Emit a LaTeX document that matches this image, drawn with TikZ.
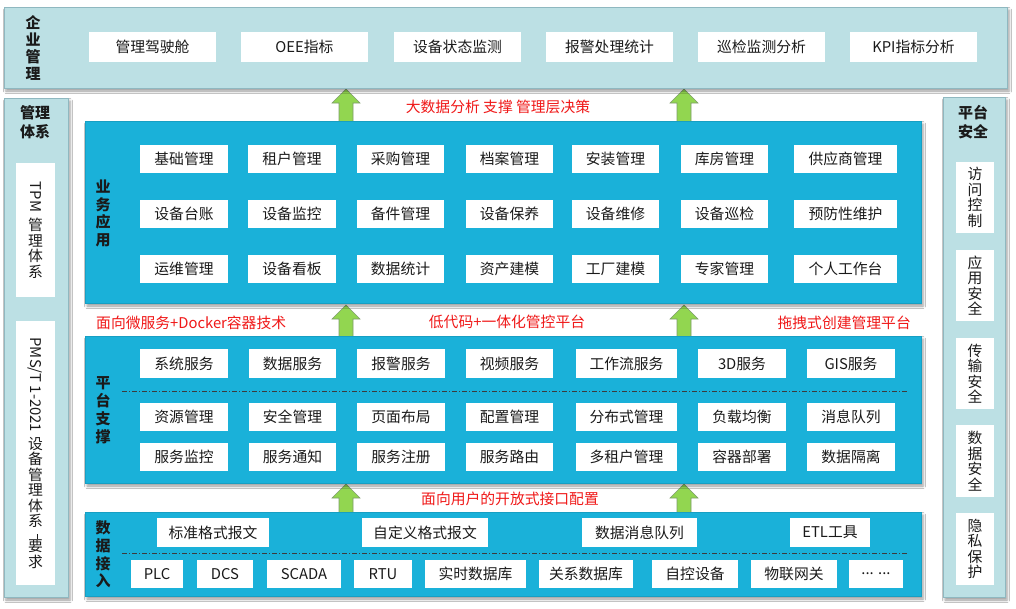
\documentclass[tikz,border=0pt]{standalone}
\usepackage{fontspec}
\setmainfont{Noto Sans CJK SC}
\usetikzlibrary{shadows.blur}
\definecolor{panelL}{HTML}{BCE0E4}
\definecolor{panelLB}{HTML}{8FB8C0}
\definecolor{panelB}{HTML}{1AB1D9}
\definecolor{arrG}{HTML}{92D650}
\definecolor{arrGB}{HTML}{7E9C6C}
\definecolor{txtR}{HTML}{F01818}
\definecolor{txtD}{HTML}{1A1A1A}
\newcommand\bfs{\fontsize{14.8}{15.5}\selectfont}
\tikzset{
  shd/.style={blur shadow={shadow xshift=2pt,shadow yshift=-3pt,shadow blur radius=2.5pt}},
  lpanel/.style={draw=panelLB, line width=1pt, fill=panelL, inner sep=0pt, shd},
  bpanel/.style={draw=panelB!90!black, line width=0.6pt, fill=panelB, inner sep=0pt, shd},
  wbox/.style={fill=white, draw=none, inner sep=0pt, font=\bfs, text=txtD, align=center},
  lbl/.style={text=txtD, align=center, inner sep=0pt},
  note/.style={font=\bfs, text=txtR, inner sep=0pt},
  uparrow/.style={fill=arrG, draw=arrGB, line width=0.6pt},
  sepline/.style={draw=txtD!85, line width=0.6pt, dash pattern=on 5pt off 2pt on 1pt off 2pt}
}
\newcommand\wb[6]{\node[wbox, minimum width={#4-#2}, minimum height={#5-#3}] (#1) at ({(#2+#4)/2},{(#3+#5)/2}) {#6};}
\newcommand\pnl[6]{\node[#1, minimum width={#5-#3}, minimum height={#6-#4}] (#2) at ({(#3+#5)/2},{(#4+#6)/2}) {};}
\newcommand\uparr[3]{\filldraw[uparrow] (#1-7,#2) -- (#1-7,#3+14) -- (#1-14,#3+14) -- (#1,#3) -- (#1+14,#3+14) -- (#1+7,#3+14) -- (#1+7,#2);}
\newcommand\rl[1]{\rotatebox[origin=c]{-90}{#1}}
\begin{document}
\begin{tikzpicture}[x=1pt,y=-1pt]
\useasboundingbox (0,0) rectangle (1016,608);
\fill[white] (0,0) rectangle (1016,608);

% arrows (under panels)
\uparr{346}{124}{89}
\uparr{684}{124}{89}
\uparr{346}{340}{305}
\uparr{684}{340}{305}
\uparr{346}{516}{484}
\uparr{684}{516}{484}

% panels
\pnl{lpanel}{top}{4}{7}{1007}{88}
\pnl{lpanel}{leftp}{4}{98}{68}{597}
\pnl{lpanel}{rightp}{943}{97}{1005}{597}
\pnl{bpanel}{biz}{85}{121}{921}{303}
\pnl{bpanel}{plat}{85}{336}{921}{483}
\pnl{bpanel}{data}{85}{512}{921}{596}

% panel labels
\node[lbl, font=\fontsize{15}{17}\selectfont\bfseries] (ltop) at (33,47.5) {企\\业\\管\\理};
\node[lbl, font=\fontsize{15}{19}\selectfont\bfseries] (lleft) at (35,122.5) {管理\\体系};
\node[lbl, font=\fontsize{15}{19}\selectfont\bfseries] (lright) at (973,122.5) {平台\\安全};
\node[lbl, font=\fontsize{15}{17.7}\selectfont\bfseries] (lbiz) at (103,213.5) {业\\务\\应\\用};
\node[lbl, font=\fontsize{15}{18}\selectfont\bfseries] (lplat) at (103,410) {平\\台\\支\\撑};
\node[lbl, font=\fontsize{15}{17.7}\selectfont\bfseries] (ldata) at (103,554.5) {数\\据\\接\\入};

% top boxes
\wb{t1}{89}{32}{216}{62}{管理驾驶舱}
\wb{t2}{241}{32}{368}{62}{OEE指标}
\wb{t3}{394}{32}{521}{62}{设备状态监测}
\wb{t4}{546}{32}{673}{62}{报警处理统计}
\wb{t5}{698}{32}{825}{62}{巡检监测分析}
\wb{t6}{850}{32}{977}{62}{KPI指标分析}

% left side boxes
\wb{tpm}{16}{163}{55}{297}{\rl{TPM}\\[5pt]管\\理\\体\\系}
\wb{pms}{16}{321}{55}{585}{\rl{PMS/T\ 1-2021}\\[4pt]设\\备\\管\\理\\体\\系\\[-3pt]\rl{\rule[0.3em]{0.32em}{0.07em}}\\[-3pt]要\\求}

% right side boxes
\wb{s1}{956}{162}{994}{233}{访\\问\\控\\制}
\wb{s2}{956}{250}{994}{321}{应\\用\\安\\全}
\wb{s3}{956}{338}{994}{409}{传\\输\\安\\全}
\wb{s4}{956}{425}{994}{497}{数\\据\\安\\全}
\wb{s5}{956}{513}{994}{585}{隐\\私\\保\\护}

% business boxes
\wb{b11}{140}{145}{228}{173}{基础管理}
\wb{b12}{248}{145}{336}{173}{租户管理}
\wb{b13}{357}{145}{444}{173}{采购管理}
\wb{b14}{466}{145}{553}{173}{档案管理}
\wb{b15}{572}{145}{659}{173}{安装管理}
\wb{b16}{681}{145}{768}{173}{库房管理}
\wb{b17}{794}{145}{897}{173}{供应商管理}
\wb{b21}{140}{200}{228}{228}{设备台账}
\wb{b22}{248}{200}{336}{228}{设备监控}
\wb{b23}{357}{200}{444}{228}{备件管理}
\wb{b24}{466}{200}{553}{228}{设备保养}
\wb{b25}{572}{200}{659}{228}{设备维修}
\wb{b26}{681}{200}{768}{228}{设备巡检}
\wb{b27}{794}{200}{897}{228}{预防性维护}
\wb{b31}{140}{255}{228}{283}{运维管理}
\wb{b32}{248}{255}{336}{283}{设备看板}
\wb{b33}{357}{255}{444}{283}{数据统计}
\wb{b34}{466}{255}{553}{283}{资产建模}
\wb{b35}{572}{255}{659}{283}{工厂建模}
\wb{b36}{681}{255}{768}{283}{专家管理}
\wb{b37}{794}{255}{897}{283}{个人工作台}

% platform boxes
\wb{p11}{140}{349}{228}{378}{系统服务}
\wb{p12}{249}{349}{336}{378}{数据服务}
\wb{p13}{357}{349}{445}{378}{报警服务}
\wb{p14}{466}{349}{553}{378}{视频服务}
\wb{p15}{576}{349}{677}{378}{工作流服务}
\wb{p16}{698}{349}{786}{378}{3D服务}
\wb{p17}{807}{349}{895}{378}{GIS服务}
\draw[sepline] (122,391) -- (907,391);
\wb{p21}{140}{403}{228}{431}{资源管理}
\wb{p22}{249}{403}{336}{431}{安全管理}
\wb{p23}{357}{403}{445}{431}{页面布局}
\wb{p24}{466}{403}{553}{431}{配置管理}
\wb{p25}{576}{403}{677}{431}{分布式管理}
\wb{p26}{698}{403}{786}{431}{负载均衡}
\wb{p27}{807}{403}{895}{431}{消息队列}
\wb{p31}{140}{443}{228}{471}{服务监控}
\wb{p32}{249}{443}{336}{471}{服务通知}
\wb{p33}{357}{443}{445}{471}{服务注册}
\wb{p34}{466}{443}{553}{471}{服务路由}
\wb{p35}{576}{443}{677}{471}{多租户管理}
\wb{p36}{698}{443}{786}{471}{容器部署}
\wb{p37}{807}{443}{895}{471}{数据隔离}

% data boxes
\wb{d11}{157}{518}{269}{547}{标准格式报文}
\wb{d12}{362}{518}{488}{547}{自定义格式报文}
\wb{d13}{582}{518}{697}{547}{数据消息队列}
\wb{d14}{790}{518}{870}{547}{ETL工具}
\draw[sepline] (122,553) -- (907,553);
\wb{d21}{131}{560}{183}{588}{PLC}
\wb{d22}{197}{560}{253}{588}{DCS}
\wb{d23}{267}{560}{341}{588}{SCADA}
\wb{d24}{354}{560}{412}{588}{RTU}
\wb{d25}{425}{560}{526}{588}{实时数据库}
\wb{d26}{539}{560}{633}{588}{关系数据库}
\wb{d27}{652}{560}{738}{588}{自控设备}
\wb{d28}{751}{560}{837}{588}{物联网关}
\wb{d29}{849}{560}{903}{588}{... ...}

% red notes
\node[note] (n1) at (498,107) {大数据分析 支撑 管理层决策};
\node[note, anchor=west] (n2) at (96,323) {面向微服务+Docker容器技术};
\node[note] (n3) at (507,322) {低代码+一体化管控平台};
\node[note, anchor=east] (n4) at (911,323) {拖拽式创建管理平台};
\node[note] (n5) at (510,499) {面向用户的开放式接口配置};
\end{tikzpicture}
\end{document}
